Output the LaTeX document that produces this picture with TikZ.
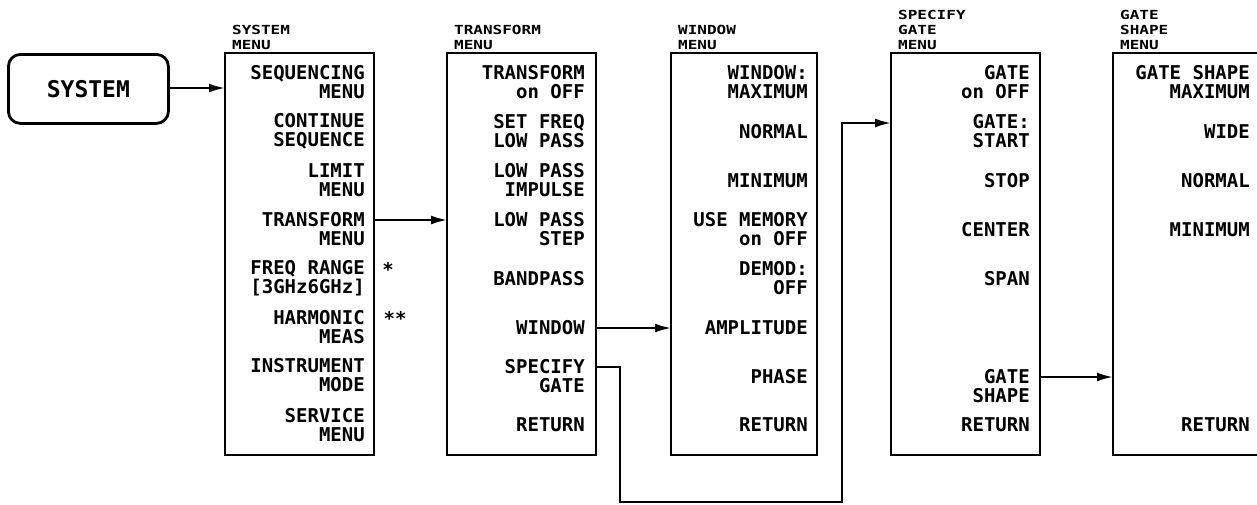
\documentclass[tikz,border=0pt]{standalone}
\usepackage{fontspec}
\usetikzlibrary{arrows.meta}
\newfontfamily\itemfont{DejaVu Sans Mono Bold}
\newfontfamily\titlefont[FakeStretch=1.28]{DejaVu Sans Mono Bold}
\tikzset{
  menubox/.style={draw, line width=2.2pt, anchor=north west, inner sep=0pt, outer sep=0pt},
  item/.style={anchor=east, align=right, inner sep=0pt, font=\itemfont\fontsize{19}{19}\selectfont},
  star/.style={anchor=center, inner sep=0pt, font=\itemfont\fontsize{19}{19}\selectfont},
  ttl/.style={anchor=south west, align=left, inner sep=0pt, font=\titlefont\fontsize{12.5}{15}\selectfont},
  arr/.style={line width=2.2pt, -{Latex[length=16pt,width=9pt]}},
}
\begin{document}
\begin{tikzpicture}[x=1pt,y=-1pt]
\useasboundingbox (0,0) rectangle (1257,504);
% SYSTEM key
\node[draw, line width=2.8pt, rounded corners=12pt, minimum width=160pt, minimum height=69pt, inner sep=0pt, anchor=north west,
      font=\itemfont\fontsize{23}{23}\selectfont] (sys) at (7,53) {SYSTEM};
% boxes
\node[menubox, minimum width=149pt, minimum height=402pt] (sbox) at (225,53) {};
\node[menubox, minimum width=149pt, minimum height=402pt] (tbox) at (447,53) {};
\node[menubox, minimum width=146pt, minimum height=402pt] (wbox) at (671,53) {};
\node[menubox, minimum width=149pt, minimum height=402pt] (gbox) at (891,53) {};
\node[menubox, minimum width=160pt, minimum height=402pt] (hbox) at (1113,53) {};
% titles
\node[ttl] (st) at (232,50) {SYSTEM\\MENU};
\node[ttl] (tt) at (454,50) {TRANSFORM\\MENU};
\node[ttl] (wt) at (678,50) {WINDOW\\MENU};
\node[ttl] (gt) at (898,50) {SPECIFY\\GATE\\MENU};
\node[ttl] (ht) at (1120,50) {GATE\\SHAPE\\MENU};
% system menu items
\node[item] (s1) at (365,82.5) {SEQUENCING\\MENU};
\node[item] (s2) at (365,131.5) {CONTINUE\\SEQUENCE};
\node[item] (s3) at (365,180.5) {LIMIT\\MENU};
\node[item] (s4) at (365,229) {TRANSFORM\\MENU};
\node[item] (s5) at (365,278) {FREQ RANGE\\{[}3GHz6GHz{]}};
\node[item] (s6) at (365,327) {HARMONIC\\MEAS};
\node[item] (s7) at (365,375.5) {INSTRUMENT\\MODE};
\node[item] (s8) at (365,425) {SERVICE\\MENU};
\node[star] (st1) at (388,269) {*};
\node[star] (st2) at (395,318) {**};
% transform menu items
\node[item] (t1) at (585,82.5) {TRANSFORM\\on OFF};
\node[item] (t2) at (585,131.5) {SET FREQ\\LOW PASS};
\node[item] (t3) at (585,180.5) {LOW PASS\\IMPULSE};
\node[item] (t4) at (585,229.5) {LOW PASS\\STEP};
\node[item] (t5) at (585,279) {BANDPASS};
\node[item] (t6) at (585,328) {WINDOW};
\node[item] (t7) at (585,376.5) {SPECIFY\\GATE};
\node[item] (t8) at (585,425) {RETURN};
% window menu items
\node[item] (w1) at (808,82.5) {WINDOW:\\MAXIMUM};
\node[item] (w2) at (808,132) {NORMAL};
\node[item] (w3) at (808,181) {MINIMUM};
\node[item] (w4) at (808,229.5) {USE MEMORY\\on OFF};
\node[item] (w5) at (808,278.5) {DEMOD:\\OFF};
\node[item] (w6) at (808,328) {AMPLITUDE};
\node[item] (w7) at (808,377) {PHASE};
\node[item] (w8) at (808,425) {RETURN};
% specify gate items
\node[item] (g1) at (1030,82.5) {GATE\\on OFF};
\node[item] (g2) at (1030,131.5) {GATE:\\START};
\node[item] (g3) at (1030,181) {STOP};
\node[item] (g4) at (1030,230) {CENTER};
\node[item] (g5) at (1030,279) {SPAN};
\node[item] (g6) at (1030,386.5) {GATE\\SHAPE};
\node[item] (g7) at (1030,425) {RETURN};
% gate shape items
\node[item] (h1) at (1250,82.5) {GATE SHAPE\\MAXIMUM};
\node[item] (h2) at (1250,132) {WIDE};
\node[item] (h3) at (1250,181) {NORMAL};
\node[item] (h4) at (1250,230) {MINIMUM};
\node[item] (h5) at (1250,425) {RETURN};
% connector levels
\coordinate (y1) at (0,88);
\coordinate (y2) at (0,220);
\coordinate (y3) at (0,328);
\coordinate (y4) at (0,367);
\coordinate (y5) at (0,123);
\coordinate (y6) at (0,377);
\coordinate (b1) at (620,502);
\coordinate (b2) at (842,502);
% connectors
\draw[arr] (sys.east |- y1) -- (sbox.west |- y1);
\draw[arr] (sbox.east |- y2) -- (tbox.west |- y2);
\draw[arr] (tbox.east |- y3) -- (wbox.west |- y3);
\draw[arr] (tbox.east |- y4) -- (b1 |- y4) -- (b1) -- (b2) -- (b2 |- y5) -- (gbox.west |- y5);
\draw[arr] (gbox.east |- y6) -- (hbox.west |- y6);
\end{tikzpicture}
\end{document}
